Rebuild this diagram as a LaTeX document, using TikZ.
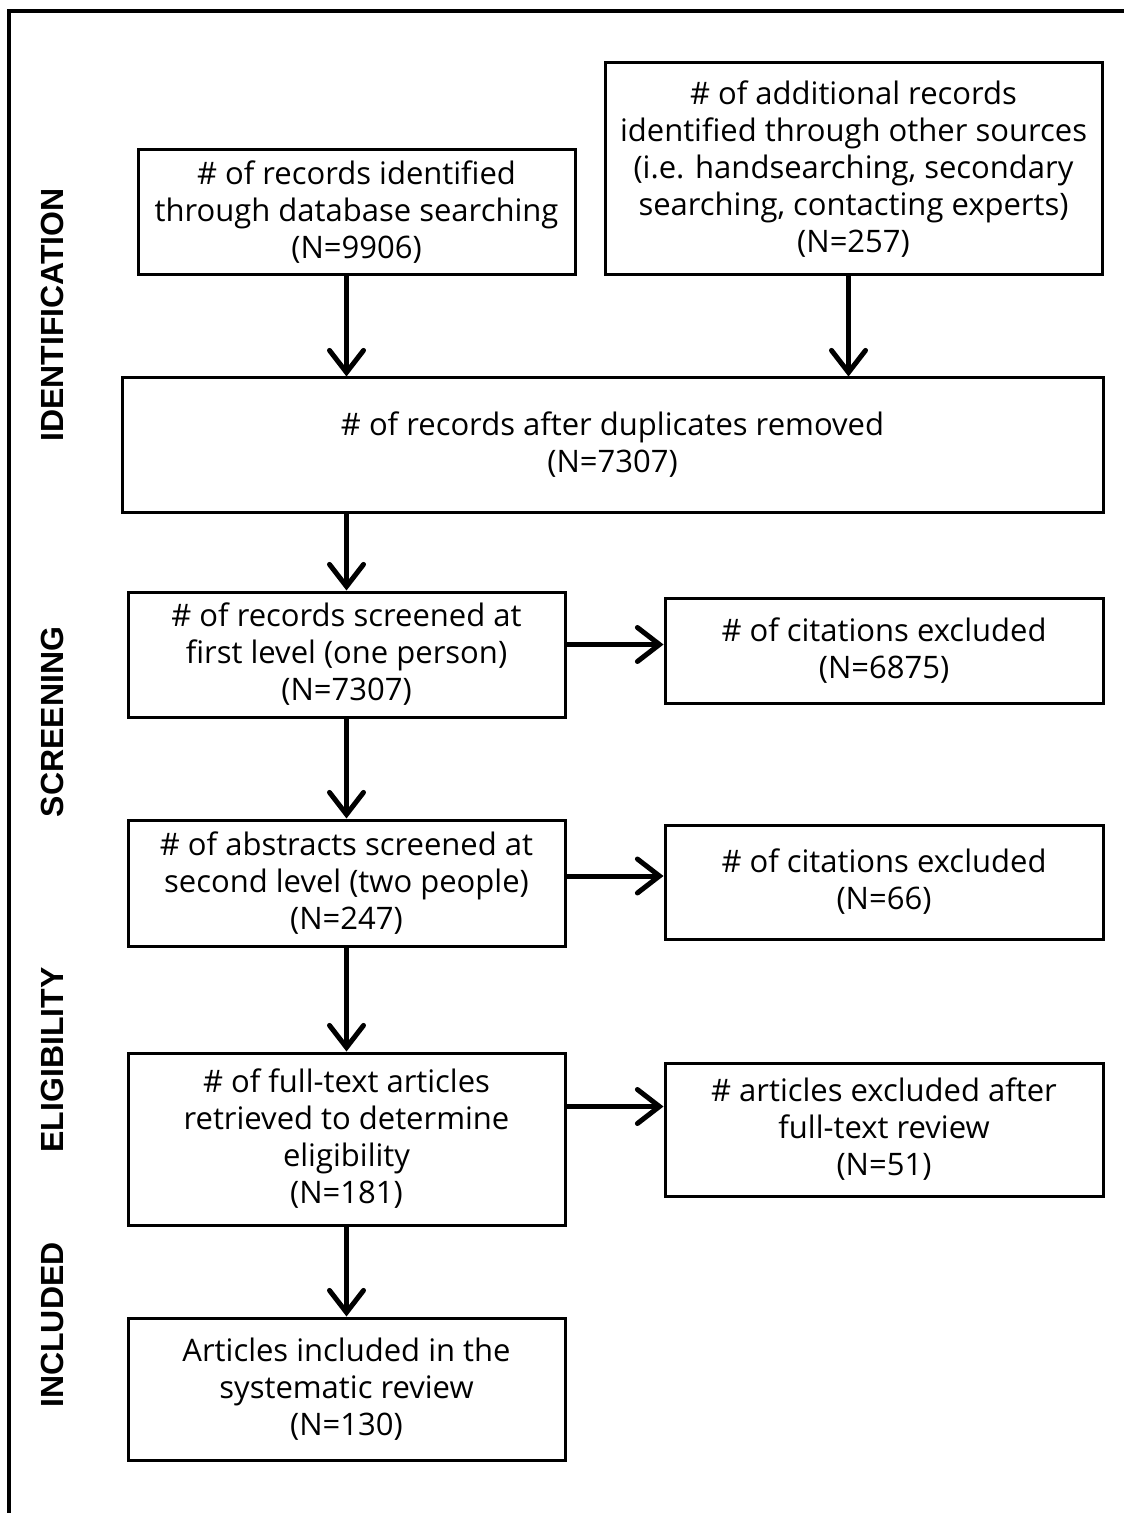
\documentclass[tikz,border=0pt]{standalone}
\usepackage{fontspec}
\setmainfont{Open Sans}
\newfontfamily\phasefont{Liberation Sans}
\usetikzlibrary{arrows.meta,positioning}

\begin{document}
\begin{tikzpicture}[x=0.5pt, y=-0.5pt,
    box/.style={draw, line width=1.5pt, inner sep=0pt, align=center,
        font=\fontsize{15.5}{18.5}\selectfont},
    arr/.style={line width=2.5pt, -{Straight Barb[length=11pt, width=17pt, line cap=round]}},
    phase/.style={rotate=90, font=\phasefont\fontsize{16}{18}\selectfont\bfseries}]
    \useasboundingbox (0,0) rectangle (1124,1513);
    \draw[line width=2pt] (9,1513) -- (9,11) -- (1124,11);
    % identification
    \node[box, minimum width=218.5pt, minimum height=62.5pt] (db) at (356.5,212.5)
        {\# of records identified\\ through database searching\\ (N=9906)};
    \node[box, minimum width=248.5pt, minimum height=106pt] (other) at (853.5,169)
        {\# of additional records\\ identified through other sources\\ (i.e. handsearching, secondary\\ searching, contacting experts)\\ (N=257)};
    \node[box, minimum width=490.5pt, minimum height=67pt] (dup) at (612.5,445)
        {\# of records after duplicates removed\\ (N=7307)};
    % screening
    \node[box, minimum width=218.5pt, minimum height=62.5pt] (scr1) at (346.5,654.5)
        {\# of records screened at\\ first level (one person)\\ (N=7307)};
    \node[box, minimum width=219pt, minimum height=52.5pt] (exc1) at (884,650.5)
        {\# of citations excluded\\ (N=6875)};
    \node[box, minimum width=218.5pt, minimum height=63pt] (scr2) at (346.5,883)
        {\# of abstracts screened at\\ second level (two people)\\ (N=247)};
    \node[box, minimum width=219pt, minimum height=57pt] (exc2) at (884,882)
        {\# of citations excluded\\ (N=66)};
    % eligibility
    \node[box, minimum width=218.5pt, minimum height=86pt] (full) at (346.5,1139)
        {\# of full-text articles\\ retrieved to determine\\ eligibility\\ (N=181)};
    \node[box, minimum width=219pt, minimum height=66.5pt] (exc3) at (884,1129.5)
        {\# articles excluded after\\ full-text review\\ (N=51)};
    % included
    \node[box, minimum width=218.5pt, minimum height=71pt] (incl) at (346.5,1389)
        {Articles included in the\\ systematic review\\ (N=130)};
    % phase labels
    \node[phase] (lblid) at (52,315) {IDENTIFICATION};
    \node[phase] (lblscr) at (52,722) {SCREENING};
    \node[phase] (lblel) at (52,1060) {ELIGIBILITY};
    \node[phase] (lblinc) at (52,1325) {INCLUDED};
    % arrows
    \draw[arr] (db.south -| scr1.north) -- (scr1.north |- dup.north);
    \draw[arr] ([xshift=-2.5pt]other.south) -- ([xshift=-2.5pt]other.south |- dup.north);
    \draw[arr] (dup.south -| scr1.north) -- (scr1.north);
    \draw[arr] (scr1.south) -- (scr2.north);
    \draw[arr] (scr2.south) -- (full.north);
    \draw[arr] (full.south) -- (incl.north);
    \draw[arr] ([yshift=3pt]exc1.west -| scr1.east) -- ([yshift=3pt]exc1.west);
    \draw[arr] ([yshift=3pt]exc2.west -| scr2.east) -- ([yshift=3pt]exc2.west);
    \draw[arr] ([yshift=11.5pt]exc3.west -| full.east) -- ([yshift=11.5pt]exc3.west);
\end{tikzpicture}
\end{document}
